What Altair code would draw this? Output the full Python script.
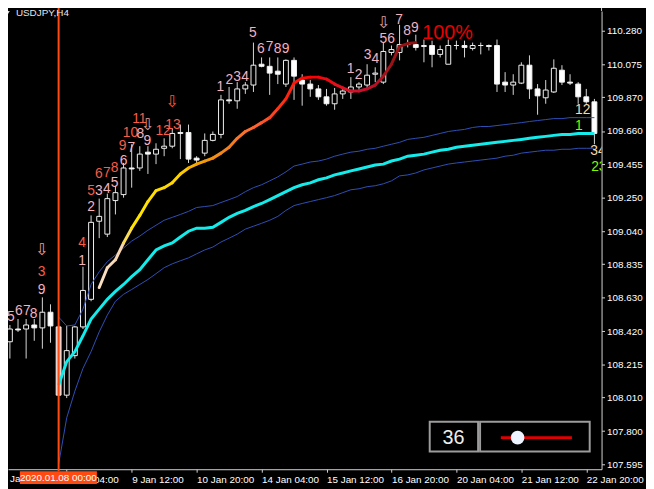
import altair as alt
import pandas as pd

# ---------------- data (USDJPY H4, bar index 0 = 6 Jan 20:00) ----------------
opens = [108.372, 108.354, 108.433, 108.433, 108.458, 108.440, 108.537, 108.446, 108.023, 108.268,
         108.446, 108.617, 109.101, 109.021, 109.229, 109.266, 109.431, 109.431, 109.529, 109.517,
         109.553, 109.566, 109.651, 109.651, 109.492, 109.523, 109.602, 109.639, 109.853, 109.847,
         109.921, 109.945, 110.074, 110.061, 110.031, 109.951, 110.098, 109.976, 109.951, 109.921,
         109.872, 109.829, 109.890, 109.902, 109.933, 109.945, 110.012, 109.963, 110.147, 110.147,
         110.196, 110.196, 110.184, 110.190, 110.135, 110.074, 110.190, 110.190, 110.172, 110.190,
         110.190, 110.190, 109.963, 109.945, 109.957, 110.068, 109.921, 109.866, 109.902, 110.037,
         109.963, 109.951, 109.872, 109.841]
highs = [108.495, 108.458, 108.495, 108.495, 108.495, 108.629, 108.586, 108.458, 108.452, 108.452,
         108.819, 109.137, 109.241, 109.272, 109.321, 109.462, 109.578, 109.566, 109.566, 109.584,
         109.615, 109.676, 109.700, 109.700, 109.504, 109.645, 109.657, 109.884, 109.933, 109.963,
         109.963, 110.208, 110.116, 110.116, 110.116, 110.104, 110.116, 110.012, 109.976, 109.945,
         109.921, 109.927, 109.933, 109.994, 109.963, 110.074, 110.055, 110.208, 110.190, 110.318,
         110.227, 110.257, 110.227, 110.220, 110.190, 110.227, 110.220, 110.220, 110.208, 110.208,
         110.196, 110.227, 110.025, 110.012, 110.086, 110.129, 109.951, 109.976, 110.104, 110.068,
         110.012, 109.963, 109.921, 109.859]
lows = [108.329, 108.250, 108.415, 108.250, 108.360, 108.311, 108.348, 107.650, 108.005, 108.250,
        108.433, 108.605, 108.996, 109.003, 109.143, 109.247, 109.309, 109.413, 109.394, 109.455,
        109.504, 109.553, 109.486, 109.462, 109.462, 109.504, 109.596, 109.615, 109.829, 109.798,
        109.890, 109.902, 110.055, 109.884, 109.951, 109.933, 109.853, 109.817, 109.872, 109.853,
        109.817, 109.792, 109.859, 109.859, 109.914, 109.927, 109.963, 109.951, 110.129, 110.098,
        110.178, 110.159, 110.086, 110.055, 110.116, 110.074, 110.165, 110.116, 110.159, 110.135,
        110.159, 109.902, 109.902, 109.884, 109.951, 109.859, 109.761, 109.829, 109.896, 109.945,
        109.945, 109.829, 109.829, 109.578]
closes = [108.342, 108.433, 108.427, 108.458, 108.440, 108.537, 108.452, 108.023, 108.299, 108.446,
          108.672, 109.094, 109.131, 109.241, 109.278, 109.431, 109.425, 109.517, 109.517, 109.547,
          109.566, 109.645, 109.645, 109.486, 109.480, 109.602, 109.639, 109.853, 109.847, 109.921,
          109.945, 110.068, 110.061, 110.019, 110.012, 110.098, 110.000, 109.951, 109.921, 109.872,
          109.829, 109.890, 109.908, 109.933, 109.951, 110.006, 110.019, 110.153, 110.165, 110.196,
          110.202, 110.178, 110.190, 110.135, 110.165, 110.190, 110.190, 110.178, 110.190, 110.190,
          110.184, 109.951, 109.945, 109.963, 110.068, 109.921, 109.878, 109.914, 110.049, 109.963,
          109.957, 109.872, 109.841, 109.645]

anchor_bar = 7          # 2020.01.08 00:00
anchor_label = "2020.01.08 00:00"
band_start = 7
vwap = [108.085, 108.231, 108.293, 108.391, 108.495, 108.556, 108.617, 108.666, 108.709, 108.758,
        108.801, 108.862, 108.923, 108.948, 108.966, 109.003, 109.039, 109.058, 109.058, 109.064,
        109.094, 109.125, 109.149, 109.168, 109.192, 109.211, 109.235, 109.260, 109.284, 109.309,
        109.327, 109.339, 109.358, 109.370, 109.388, 109.400, 109.413, 109.425, 109.437, 109.449,
        109.455, 109.474, 109.486, 109.504, 109.510, 109.517, 109.529, 109.541, 109.547, 109.559,
        109.566, 109.572, 109.578, 109.584, 109.590, 109.596, 109.602, 109.608, 109.615, 109.621,
        109.627, 109.633, 109.639, 109.639, 109.645, 109.645, 109.645]
upper = [108.507, 108.452, 108.458, 108.556, 108.709, 108.788, 108.850, 108.892, 108.935, 108.978,
         109.009, 109.045, 109.076, 109.107, 109.125, 109.143, 109.162, 109.186, 109.192, 109.198,
         109.217, 109.235, 109.254, 109.284, 109.309, 109.327, 109.351, 109.376, 109.407, 109.443,
         109.455, 109.468, 109.474, 109.486, 109.504, 109.517, 109.529, 109.535, 109.547, 109.553,
         109.566, 109.578, 109.590, 109.608, 109.615, 109.621, 109.633, 109.645, 109.657, 109.664,
         109.670, 109.682, 109.688, 109.688, 109.694, 109.700, 109.706, 109.712, 109.719, 109.725,
         109.731, 109.737, 109.737, 109.743, 109.743, 109.743, 109.743]
lower = [107.595, 107.883, 108.048, 108.189, 108.293, 108.415, 108.519, 108.605, 108.648, 108.678,
         108.709, 108.740, 108.776, 108.813, 108.837, 108.856, 108.874, 108.899, 108.923, 108.941,
         108.972, 108.996, 109.021, 109.052, 109.070, 109.088, 109.107, 109.131, 109.168, 109.198,
         109.211, 109.223, 109.235, 109.247, 109.260, 109.278, 109.296, 109.302, 109.315, 109.321,
         109.333, 109.351, 109.382, 109.388, 109.400, 109.419, 109.431, 109.443, 109.455, 109.462,
         109.468, 109.474, 109.480, 109.486, 109.492, 109.504, 109.510, 109.523, 109.529, 109.535,
         109.541, 109.541, 109.547, 109.547, 109.553, 109.553, 109.553]

trend_start = 12
trend = [108.690, 108.813, 108.862, 108.966, 109.058, 109.137, 109.223, 109.290, 109.309, 109.339,
         109.394, 109.431, 109.455, 109.474, 109.492, 109.523, 109.559, 109.615, 109.657, 109.682,
         109.712, 109.743, 109.798, 109.859, 109.957, 109.988, 109.994, 109.994, 109.982, 109.951,
         109.927, 109.908, 109.908, 109.921, 109.945, 110.000, 110.074, 110.184, 110.202, 110.208]

x_tick_bars = [0, 8, 16, 24, 32, 40, 48, 56, 64, 72]
x_tick_labels = ["6 Jan 20:00", "8 Jan 04:00", "9 Jan 12:00", "10 Jan 20:00", "14 Jan 04:00",
                 "15 Jan 12:00", "16 Jan 20:00", "20 Jan 04:00", "21 Jan 12:00", "22 Jan 20:00"]
y_ticks = [107.595, 107.800, 108.010, 108.215, 108.420, 108.630, 108.835, 109.040, 109.250,
           109.455, 109.660, 109.870, 110.075, 110.280]

ann_bar = [0.16, 0.04, 1.13, 2.10, 3.08, 3.93, 4.90, 4.90, 4.90,
           9.89, 9.89, 10.99, 10.99, 11.96, 12.93, 11.96, 12.93, 13.91, 13.91, 15.00, 14.88,
           15.97, 15.85, 17.07, 16.95, 17.92, 17.92, 19.87, 21.08, 20.96,
           26.92, 28.02, 28.99, 29.96, 30.94, 31.91, 33.00, 33.98, 34.95,
           42.98, 43.95, 45.05, 46.02, 46.99, 46.99, 47.97, 48.94, 49.92, 50.89,
           54.9, 71.57, 71.08, 73.43, 73.55]
ann_price = [108.660, 108.544, 108.507, 108.544, 108.544, 108.525, 108.923, 108.788, 108.672,
             108.966, 108.856, 109.186, 109.290, 109.290, 109.302, 109.394, 109.400, 109.431, 109.339, 109.474, 109.566,
             109.553, 109.645, 109.639, 109.737, 109.700, 109.596, 109.657, 109.700, 109.841,
             109.933, 109.976, 109.994, 109.994, 110.269, 110.165, 110.178, 110.165, 110.165,
             110.043, 110.006, 110.129, 110.104, 110.331, 110.233, 110.233, 110.349, 110.282, 110.300,
             110.269, 109.792, 109.688, 109.535, 109.437]
ann_text = ["2", "4", "5", "6", "7", "8", "⇩", "3", "9",
            "4", "1", "2", "5", "3", "4", "6", "7", "8", "5", "6", "9",
            "7", "10", "8", "11", "⇩", "9", "12", "13", "⇩",
            "1", "2", "3", "4", "5", "6", "7", "8", "9",
            "1", "2", "3", "4", "⇩", "5", "6", "7", "8", "9",
            "100%", "12", "1", "34", "23"]
ann_kind = ["R", "P", "P", "P", "P", "P", "PA", "R", "P",
            "R", "P", "P", "R", "P", "P", "R", "R", "R", "P", "P", "R",
            "P", "R", "P", "R", "PA", "P", "R", "R", "RA",
            "P", "P", "P", "P", "P", "P", "P", "P", "P",
            "P", "P", "P", "P", "PA", "P", "P", "P", "P", "P",
            "PCT", "T", "G", "T", "G"]

# ---------------- styling ----------------
W, H = 601, 464
XMIN, XMAX = 0.766, 73.88
YMIN, YMAX = 107.564, 110.404
AX = "#d4d4d4"
FONT = "Liberation Sans"
KIND_COL = {"P": "#f3b2c0", "R": "#fa5c46", "PA": "#e8a2a2", "RA": "#ff5a3a",
            "T": "#f5d8ae", "G": "#7cfc00", "PCT": "#e80000"}
TREND_STOPS = [(12, "#fbe2c6"), (15, "#f6d2ac"), (16, "#ffe600"), (22, "#ffd400"),
               (24, "#f5a300"), (28, "#f28020"), (31, "#ff6a34"), (35, "#ff2a12"),
               (38, "#ff0000"), (42, "#e01222"), (45, "#c41030"), (48, "#a01418"), (51, "#8a1010")]


def hex2rgb(h):
    return tuple(int(h[k:k + 2], 16) for k in (1, 3, 5))


def trend_color(pos):
    for (a, ca), (b, cb) in zip(TREND_STOPS[:-1], TREND_STOPS[1:]):
        if a <= pos <= b:
            t = (pos - a) / (b - a)
            r1, r2 = hex2rgb(ca), hex2rgb(cb)
            return "#%02x%02x%02x" % tuple(round(u + (v - u) * t) for u, v in zip(r1, r2))
    return TREND_STOPS[-1][1]


# ---------------- tables ----------------
candles = pd.DataFrame({"i": range(len(opens)), "o": opens, "h": highs, "l": lows, "c": closes})
candles["xl"] = candles["i"] - 0.3
candles["xr"] = candles["i"] + 0.3
candles["fill"] = ["#000000" if c > o else "#ffffff" for o, c in zip(opens, closes)]
candles.loc[candles["i"] == anchor_bar, "fill"] = "#f8bcae"

bidx = list(range(band_start, band_start + len(vwap)))
bands = pd.concat([
    pd.DataFrame({"i": bidx, "v": upper, "band": "upper"}),
    pd.DataFrame({"i": bidx, "v": lower, "band": "lower"}),
])
mid = pd.DataFrame({"i": bidx, "v": vwap})

tidx = list(range(trend_start, trend_start + len(trend)))
segs = pd.DataFrame({"i": tidx[:-1], "i2": tidx[1:], "v": trend[:-1], "v2": trend[1:]})
segs["col"] = [trend_color(i + 0.5) for i in segs["i"]]

ann = pd.DataFrame({"bar": ann_bar, "price": ann_price, "text": ann_text, "kind": ann_kind})
ann["col"] = ann["kind"].map(KIND_COL)
edge = ann["bar"] > 73
nums = ann[ann["kind"].isin(["P", "R", "T", "G"]) & ~edge]
nums_edge = ann[edge]
arrows = ann[ann["kind"].isin(["PA", "RA"])]
pct = ann[ann["kind"] == "PCT"]

anchor = pd.DataFrame({"anchor": [anchor_bar]})
first_tick = pd.DataFrame({"bar": [x_tick_bars[0]], "lab": [x_tick_labels[0]]})
one = pd.DataFrame({"k": [0]})

# ---------------- scales / axes ----------------
x_scale = alt.Scale(domain=[XMIN, XMAX], nice=False, zero=False)
y_scale = alt.Scale(domain=[YMIN, YMAX], nice=False, zero=False)
lab_arr = "[" + ",".join("'%s'" % t for t in x_tick_labels) + "]"
val_arr = "[" + ",".join(str(v) for v in x_tick_bars) + "]"
x_axis = alt.Axis(values=x_tick_bars[1:], labelExpr=f"{lab_arr}[indexof({val_arr}, datum.value)]",
                  title=None, grid=False, labelAlign="left", labelFlush=False, labelOverlap=False,
                  tickSize=3, labelPadding=2, labelFont=FONT, labelFontSize=10, labelColor="#ffffff",
                  domainColor=AX, tickColor=AX)
y_axis = alt.Axis(values=y_ticks, format=".3f", orient="right", title=None, grid=False,
                  labelOverlap=False, tickSize=3, labelPadding=2, labelFont=FONT, labelFontSize=10,
                  labelColor="#ffffff", domainColor=AX, tickColor=AX)


def X(f):
    return alt.X(f, type="quantitative", scale=x_scale, axis=x_axis)


def Y(f):
    return alt.Y(f, type="quantitative", scale=y_scale, axis=y_axis)


# ---------------- layers ----------------
frame_top = alt.Chart(one).mark_rule(color=AX, strokeWidth=1).encode(
    x=alt.value(-8), x2=alt.value(W), y=alt.value(-7))
frame_right = alt.Chart(one).mark_rule(color=AX, strokeWidth=1).encode(
    x=alt.value(W), y=alt.value(-7), y2=alt.value(0))
frame_bottom = alt.Chart(one).mark_rule(color=AX, strokeWidth=1).encode(
    x=alt.value(-8), x2=alt.value(0), y=alt.value(H))
first_lab = alt.Chart(first_tick).mark_text(font=FONT, fontSize=10, color="#ffffff", align="left",
                                            baseline="top").encode(
    x=X("bar"), y=alt.value(H + 5), text="lab:N")
first_tk = alt.Chart(first_tick).mark_rule(color=AX).encode(
    x=X("bar"), y=alt.value(H), y2=alt.value(H + 3))

wicks = alt.Chart(candles).mark_rule(color="#d8d8d8", strokeWidth=1).encode(
    x=X("i"), y=Y("l"), y2="h")
bodies = alt.Chart(candles).mark_rect(stroke="#f2f2f2", strokeWidth=1).encode(
    x=X("xl"), x2="xr", y=Y("o"), y2="c", fill=alt.Fill("fill:N", scale=None))

band_lines = alt.Chart(bands).mark_line(color="#2f50b6", strokeWidth=1).encode(
    x=X("i"), y=Y("v"), detail="band:N")
mid_line = alt.Chart(mid).mark_line(color="#14ecec", strokeWidth=3).encode(x=X("i"), y=Y("v"))
trend_line = alt.Chart(segs).mark_rule(strokeWidth=3, strokeCap="round").encode(
    x=X("i"), x2="i2", y=Y("v"), y2="v2", color=alt.Color("col:N", scale=None))

vline = alt.Chart(anchor).mark_rule(color="#ff4a12", strokeWidth=2).encode(
    x=X("anchor"), y=alt.value(-8), y2=alt.value(466))

num_text = alt.Chart(nums).mark_text(font=FONT, fontSize=14).encode(
    x=X("bar"), y=Y("price"), text="text:N", color=alt.Color("col:N", scale=None))
edge_text = alt.Chart(nums_edge).mark_text(font=FONT, fontSize=14, clip=True).encode(
    x=X("bar"), y=Y("price"), text="text:N", color=alt.Color("col:N", scale=None))
arrow_text = alt.Chart(arrows).mark_text(font="DejaVu Sans", fontSize=16).encode(
    x=X("bar"), y=Y("price"), text="text:N", color=alt.Color("col:N", scale=None))
pct_text = alt.Chart(pct).mark_text(font=FONT, fontSize=20).encode(
    x=X("bar"), y=Y("price"), text="text:N", color=alt.Color("col:N", scale=None))

date_box = alt.Chart(one).mark_rect(color="#ff4a12").encode(
    x=alt.value(12), x2=alt.value(90), y=alt.value(466), y2=alt.value(479))
date_text = alt.Chart(one).mark_text(font=FONT, fontSize=10, color="#ffffff", baseline="middle").encode(
    x=alt.value(51), y=alt.value(472.5), text=alt.value(anchor_label))

box1 = alt.Chart(one).mark_rect(fill="#000000", stroke="#9c9c9c", strokeWidth=2).encode(
    x=alt.value(427), x2=alt.value(476), y=alt.value(416), y2=alt.value(446))
box2 = alt.Chart(one).mark_rect(fill="#000000", stroke="#9c9c9c", strokeWidth=2).encode(
    x=alt.value(478), x2=alt.value(589), y=alt.value(416), y2=alt.value(446))
box_num = alt.Chart(one).mark_text(font=FONT, fontSize=20, color="#eeeeee", baseline="middle").encode(
    x=alt.value(451), y=alt.value(432), text=alt.value("36"))
slider_line = alt.Chart(one).mark_rule(color="#e00000", strokeWidth=3).encode(
    x=alt.value(499), x2=alt.value(571), y=alt.value(432))
slider_knob = alt.Chart(one).mark_point(shape="circle", filled=True, size=190, color="#eef4ff", opacity=1).encode(
    x=alt.value(516), y=alt.value(432))

tri = alt.Chart(one).mark_point(shape="triangle-down", filled=True, size=22, color="#dddddd", opacity=1).encode(
    x=alt.value(-0.5), y=alt.value(2))
title = alt.Chart(one).mark_text(font=FONT, fontSize=10, color="#e6e6e6", align="left", baseline="middle").encode(
    x=alt.value(8), y=alt.value(2.5), text=alt.value("USDJPY,H4"))

chart = alt.layer(
    frame_top, frame_right, frame_bottom, first_lab, first_tk,
    wicks, bodies, band_lines, mid_line, trend_line, vline,
    num_text, edge_text, arrow_text, pct_text, date_box, date_text,
    box1, box2, box_num, slider_line, slider_knob, tri, title,
).properties(
    width=W, height=H,
    padding={"left": 0, "top": 0, "right": 45, "bottom": 17},
    autosize=alt.AutoSizeParams(type="none"),
).configure(background="#000000").configure_view(stroke=None)

chart.save("out.html", embed_options={"renderer": "svg", "actions": False})
